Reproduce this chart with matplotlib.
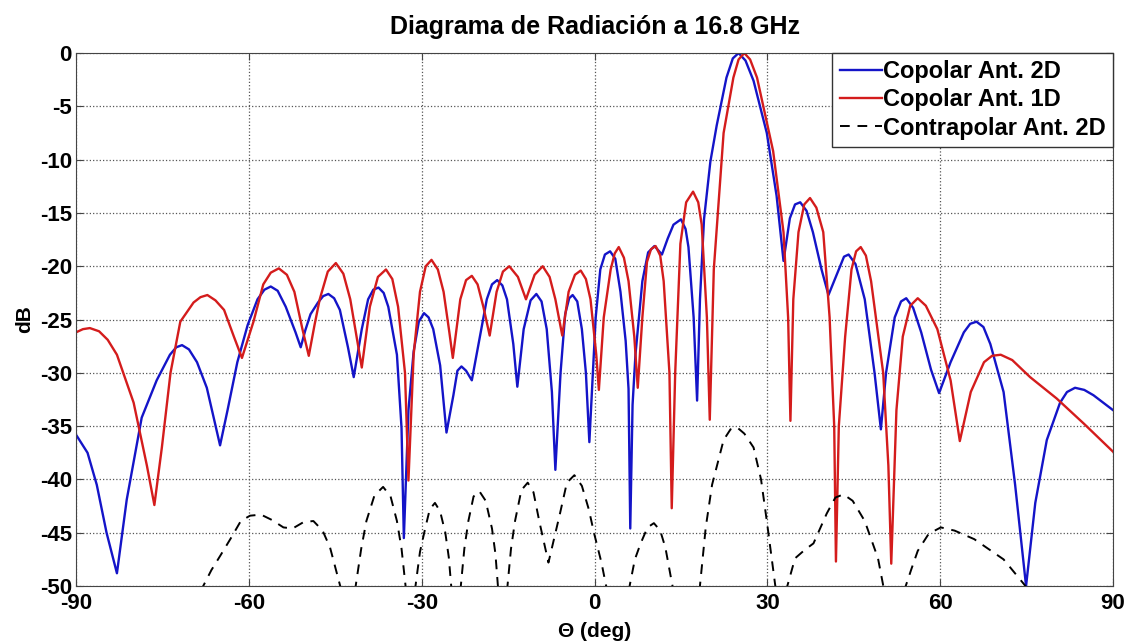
import numpy as np
import matplotlib
matplotlib.use('Agg')
import matplotlib.pyplot as plt

plt.rcParams['font.family'] = ['Liberation Sans', 'DejaVu Sans']
plt.rcParams['font.weight'] = 'bold'
plt.rcParams['axes.unicode_minus'] = False

# Copolar Ant. 2D (blue)
theta_2d = [-90, -88, -86.4, -84.7, -82.9, -81.2, -78.6, -76.0, -73.7, -72.6, -71.6, -70.4, -69.0,
            -67.3, -65.8, -65.0, -63.7, -62.0, -60.2, -58.5, -57.3, -56.2, -55.0, -53.6, -51.9,
            -51.0, -50.2, -49.3, -48.0, -47.1, -46.2, -45.2, -44.2, -42.8, -41.8, -40.4, -39.3,
            -38.4, -37.5, -36.6, -35.8, -34.3, -33.5, -33.1, -32.3, -31.4, -30.5, -29.6, -28.8,
            -28.0, -26.8, -25.7, -24.5, -23.8, -23.1, -22.3, -21.3, -19.9, -18.7, -17.8, -16.9,
            -16.0, -15.2, -14.1, -13.4, -12.3, -11.1, -10.1, -9.2, -8.3, -7.4, -6.8, -5.9, -5.1,
            -4.4, -3.8, -3.0, -2.2, -1.5, -0.9, 0.2, 1.0, 1.8, 2.7, 3.6, 4.5, 5.4, 5.9, 6.2, 6.6,
            7.1, 8.3, 9.3, 10.4, 11.7, 12.7, 13.7, 15.0, 15.8, 16.3, 17.2, 17.8, 18.3, 19.0, 20.1,
            21.2, 22.9, 24.0, 25.0, 26.2, 27.6, 29.9, 31.6, 32.8, 33.9, 34.8, 35.7, 36.8, 37.9,
            39.4, 40.6, 42.4, 43.3, 44.1, 45.3, 46.9, 48.6, 49.7, 50.6, 52.1, 53.2, 54.1, 55.3,
            56.7, 58.4, 59.8, 61.8, 64.1, 65.2, 66.3, 67.5, 68.7, 71.0, 73.0, 74.9, 76.5, 78.5,
            80.8, 82.0, 83.4, 85.0, 86.6, 90]
db_2d = [-35.8, -37.5, -40.5, -45.0, -48.8, -41.9, -34.2, -30.7, -28.3, -27.6, -27.4, -27.8, -29.0,
         -31.4, -34.9, -36.8, -33.5, -29.0, -25.5, -23.1, -22.2, -21.9, -22.3, -23.8, -26.2,
         -27.6, -26.0, -24.5, -23.4, -22.8, -22.6, -23.0, -24.1, -27.6, -30.4, -25.9, -23.1,
         -22.2, -22.0, -22.5, -23.8, -28.3, -35.2, -45.5, -33.5, -28.0, -25.2, -24.4, -24.8,
         -25.9, -29.3, -35.6, -32.1, -29.8, -29.4, -29.8, -30.7, -26.6, -23.1, -21.7, -21.3,
         -21.8, -23.1, -27.3, -31.3, -25.9, -23.2, -22.6, -23.3, -25.9, -31.8, -39.1, -30.0, -24.5,
         -23.0, -22.7, -23.3, -25.9, -30.0, -36.5, -24.8, -20.3, -18.9, -18.6, -19.3, -22.4, -27.0,
         -31.5, -44.6, -33.0, -28.3, -21.4, -18.7, -18.1, -18.9, -17.4, -16.1, -15.6, -16.5,
         -18.2, -24.8, -32.6, -23.1, -15.6, -10.2, -6.8, -2.3, -0.5, 0.0, -0.7, -2.6, -7.5,
         -13.4, -19.5, -15.5, -14.2, -14.0, -14.8, -16.8, -20.3, -22.7, -20.3, -19.1, -18.9,
         -19.8, -23.1, -30.0, -35.3, -30.0, -24.8, -23.3, -23.0, -23.9, -26.2, -29.7, -31.9,
         -29.0, -26.2, -25.4, -25.2, -25.7, -27.3, -31.8, -40.5, -50.0, -42.2, -36.3, -32.8,
         -31.8, -31.4, -31.6, -32.1, -33.5]

# Copolar Ant. 1D (red)
theta_1d = [-90, -88.8, -87.6, -86.0, -84.5, -82.9, -80.0, -77.7, -76.4, -75.1, -73.6, -71.9, -69.6,
            -68.4, -67.2, -65.8, -64.3, -62.6, -61.2, -59.2, -57.5, -56.2, -54.8, -53.4, -52.1,
            -50.7, -49.6, -48.6, -47.7, -46.3, -44.9, -43.6, -42.4, -41.3, -40.4, -39.0, -37.6,
            -36.2, -35.1, -34.1, -32.9, -32.3, -31.4, -30.3, -29.3, -28.3, -27.2, -26.2, -25.2,
            -24.6, -23.3, -22.3, -21.3, -20.3, -19.3, -18.2, -17.0, -15.9, -14.8, -13.3, -11.9,
            -10.4, -9.0, -7.8, -6.8, -5.6, -4.5, -3.4, -2.4, -1.5, -0.7, 0.3, 0.75, 1.6, 2.8, 3.5,
            4.2, 5.1, 5.9, 6.9, 7.5, 8.3, 9.1, 9.8, 10.6, 11.4, 12.0, 13.0, 13.4, 14.0, 14.9, 15.9,
            17.1, 18.0, 18.6, 19.5, 20.0, 20.7, 22.4, 24.1, 25.0, 26.0, 27.0, 28.2, 31.0, 32.8,
            33.6, 34.0, 34.5, 35.4, 36.4, 37.4, 38.5, 39.7, 40.8, 41.6, 41.9, 42.4, 43.5, 44.6,
            45.4, 46.2, 47.1, 48.0, 50.1, 51.0, 51.5, 52.4, 53.5, 54.8, 56.1, 57.5, 59.5, 61.8,
            63.4, 65.3, 67.6, 69.0, 70.5, 72.5, 75.6, 80.2, 85.0, 90]
db_1d = [-26.2, -25.9, -25.8, -26.1, -26.9, -28.3, -32.8, -38.7, -42.4, -37.0, -30.0, -25.2, -23.4,
         -22.9, -22.7, -23.2, -24.1, -26.6, -28.6, -25.2, -21.7, -20.6, -20.2, -20.8, -22.4,
         -25.9, -28.4, -25.5, -23.1, -20.5, -19.7, -20.7, -23.1, -26.6, -29.5, -23.8, -21.0,
         -20.3, -21.2, -23.8, -30.0, -40.1, -28.3, -22.4, -20.0, -19.4, -20.3, -22.4, -26.2,
         -28.6, -23.1, -21.3, -20.9, -21.7, -23.8, -26.5, -22.4, -20.5, -20.0, -21.0, -23.1,
         -20.8, -20.0, -21.0, -23.1, -26.5, -22.4, -20.8, -20.4, -21.2, -23.1, -28.3, -31.6,
         -24.8, -20.3, -18.8, -18.2, -19.2, -21.4, -26.6, -31.4, -24.8, -19.6, -18.4, -18.1,
         -19.0, -21.4, -30.0, -42.7, -30.0, -17.9, -14.0, -13.0, -14.0, -16.1, -24.8, -34.4,
         -20.3, -7.5, -2.3, -0.6, 0.0, -0.6, -2.3, -9.2, -16.8, -24.8, -34.5, -23.1, -16.8,
         -14.2, -13.6, -14.5, -16.8, -24.8, -35.0, -47.7, -35.0, -26.6, -20.3, -18.6, -18.2,
         -19.0, -21.4, -30.0, -38.7, -47.9, -33.5, -26.6, -23.7, -23.0, -23.7, -25.9, -30.7,
         -36.4, -31.8, -29.0, -28.4, -28.3, -28.8, -30.4, -32.4, -34.8, -37.4]

# Contrapolar Ant. 2D (black dashed); lobe ends just under -50 dB, nan splits lobes
theta_x = [-68.4, -66.5, -64.9, -63.0, -61.4, -59.8, -57.9, -56.0, -54.0, -52.4, -50.5, -48.8,
           -47.2, -45.9, -43.9, np.nan,
           -41.6, -40.5, -39.6, -38.2, -36.7, -35.4, -34.3, -33.5, -32.7, np.nan,
           -31.2, -30.3, -29.4, -28.6, -27.7, -26.8, -25.9, -25.3, -24.8, np.nan,
           -23.3, -22.6, -21.9, -21.0, -20.0, -18.9, -17.8, -17.2, -16.7, np.nan,
           -15.2, -14.5, -13.8, -12.7, -11.6, -10.6, -9.6, -8.0, -6.0, -4.8, -3.5, -2.2, -1.0,
           -0.1, 1.2, 2.2, np.nan,
           5.9, 7.0, 8.0, 9.2, 10.3, 11.4, 12.3, 13.7, np.nan,
           18.2, 19.3, 20.4, 22.4, 23.6, 24.7, 26.0, 27.6, 28.9, 29.9, 31.5, np.nan,
           33.2, 34.8, 36.5, 38.0, 40.3, 41.8, 43.2, 44.8, 46.9, 49.2, 50.3, np.nan,
           53.7, 55.0, 56.1, 58.0, 60.1, 62.5, 65.9, 71.0, 74.5, 75.5]
db_x = [-50.5, -48.5, -47.1, -45.4, -43.9, -43.4, -43.3, -43.8, -44.5, -44.6, -44.0, -43.9,
        -44.8, -46.4, -50.5, np.nan,
        -50.5, -46.5, -43.9, -41.5, -40.7, -41.6, -43.9, -46.5, -50.5, np.nan,
        -50.5, -46.8, -44.6, -42.8, -42.2, -43.0, -45.0, -47.3, -50.5, np.nan,
        -50.5, -46.5, -43.9, -41.6, -41.1, -42.0, -44.6, -47.0, -50.5, np.nan,
        -50.5, -46.5, -43.9, -41.0, -40.3, -41.2, -43.9, -47.8, -43.2, -40.3, -39.6, -40.6, -42.8,
        -45.0, -47.8, -50.5, np.nan,
        -50.5, -47.5, -46.0, -44.5, -44.1, -44.8, -46.4, -50.5, np.nan,
        -50.5, -44.5, -40.5, -36.3, -35.3, -35.1, -35.7, -37.0, -40.0, -43.9, -50.5, np.nan,
        -50.5, -47.4, -46.6, -46.0, -43.2, -41.7, -41.4, -42.0, -43.9, -47.4, -50.5, np.nan,
        -50.5, -48.4, -46.7, -45.1, -44.5, -44.8, -45.6, -47.5, -49.8, -50.5]

x_ticks = np.arange(-90, 91, 30)
y_ticks = np.arange(-50, 1, 5)

fig = plt.figure(figsize=(11.33, 6.44), dpi=100)
ax = fig.add_axes([0.0671, 0.090, 0.9153, 0.8276])

ax.plot(theta_2d, db_2d, color='#1414c8', lw=1.7, label='Copolar Ant. 2D')
ax.plot(theta_1d, db_1d, color='#d41c1c', lw=1.7, label='Copolar Ant. 1D')
ax.plot(theta_x, db_x, color='black', lw=1.4, ls=(0, (5, 4)), label='Contrapolar Ant. 2D')

ax.set_xlim(-90, 90)
ax.set_ylim(-50, 0)
ax.set_xticks(x_ticks)
ax.set_yticks(y_ticks)
ax.grid(True, ls=':', color='#555555', lw=0.9)
ax.tick_params(direction='in', top=True, right=True, labelsize=16, length=5,
               color='#444444')
ax.tick_params(axis='x', pad=5)
ax.tick_params(axis='y', pad=3)
for s in ax.spines.values():
    s.set_color('#444444')

ax.set_title('Diagrama de Radiación a 16.8 GHz', fontsize=18, fontweight='bold', pad=14)
ax.set_xlabel('Θ (deg)', fontsize=15, fontweight='bold', labelpad=6)
ax.set_ylabel('dB', fontsize=15, fontweight='bold', labelpad=4)

leg = ax.legend(loc='upper right', fontsize=17, fancybox=False, framealpha=1,
                edgecolor='#333333', handlelength=1.8, handletextpad=0.05,
                borderpad=0.3, labelspacing=0.22, borderaxespad=0.0)
leg.get_frame().set_linewidth(1.0)

fig.savefig('out.png', dpi=100)
